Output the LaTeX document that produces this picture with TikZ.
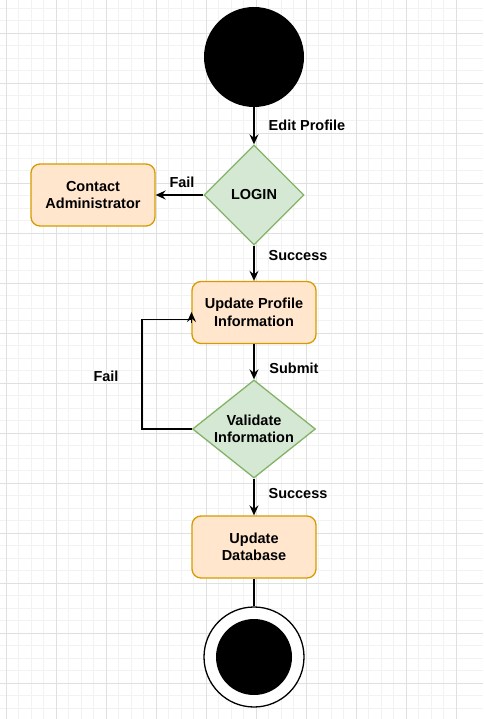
\documentclass[tikz,border=0pt]{standalone}
\usepackage{fontspec}
\setmainfont{Liberation Sans}
\usetikzlibrary{shapes.geometric,arrows.meta}
\definecolor{gridminor}{HTML}{F2F2F2}
\definecolor{gridmajor}{HTML}{E0E0E0}
\definecolor{actfill}{HTML}{FFE6CC}
\definecolor{actdraw}{HTML}{D79B00}
\definecolor{decfill}{HTML}{D5E8D4}
\definecolor{decdraw}{HTML}{82B366}
\tikzset{
  txt/.style={font=\fontsize{14.5}{17.5}\selectfont\bfseries, align=center},
  actbox/.style={txt, rectangle, rounded corners=9pt, draw=actdraw, fill=actfill, line width=1.3pt, minimum width=124pt, minimum height=62pt, inner sep=0pt},
  decbox/.style={diamond, draw=decdraw, fill=decfill, line width=1.3pt, inner sep=0pt},
  conn/.style={line width=1.5pt, draw=black},
  arr/.style={conn, -{Stealth[length=10pt,width=9pt,inset=3.5pt]}},
  lbl/.style={txt, inner sep=0pt}
}
\begin{document}
\begin{tikzpicture}[x=1pt,y=-1pt]
\useasboundingbox (0,0) rectangle (483,719);
\fill[white] (0,0) rectangle (483,719);
% grid
\foreach \i in {0,...,39} {
  \draw[gridminor, line width=0.8pt] ({6+12.5*\i-50},0) -- ({6+12.5*\i-50},719);
}
\foreach \i in {0,...,59} {
  \draw[gridminor, line width=0.8pt] (0,{33+12.5*\i-50}) -- (483,{33+12.5*\i-50});
}
\foreach \i in {0,...,9} {
  \draw[gridmajor, line width=0.9pt] ({6+50*\i},0) -- ({6+50*\i},719);
}
\foreach \i in {0,...,14} {
  \draw[gridmajor, line width=0.9pt] (0,{-17+50*\i}) -- (483,{-17+50*\i});
}
% nodes
\node[circle, fill=black, minimum size=100pt, inner sep=0pt] (start) at (254,57) {};
\node[decbox, minimum width=100pt, minimum height=100pt] (login) at (254,195) {};
\node[txt] (logintxt) at (login.center) {LOGIN};
\node[actbox] (contact) at (93,195) {Contact\\Administrator};
\node[actbox] (upd) at (254,312.5) {Update Profile\\Information};
\node[decbox, minimum width=123pt, minimum height=98pt] (valid) at (254,429) {};
\node[txt] (validtxt) at (valid.center) {Validate\\Information};
\node[actbox] (db) at (254,547) {Update\\Database};
\node[circle, draw=black, fill=white, line width=1.3pt, minimum size=100pt, inner sep=0pt] (end) at (254,657) {};
\node[circle, fill=black, minimum size=76pt, inner sep=0pt] (endin) at (end.center) {};
% labels
\node[lbl] (l1) at (307,125) {Edit Profile};
\node[lbl] (l2) at (182,182) {Fail};
\node[lbl] (l3) at (298,256) {Success};
\node[lbl] (l4) at (294,368) {Submit};
\node[lbl] (l5) at (106,376) {Fail};
\node[lbl] (l6) at (298,494) {Success};
% connectors
\draw[arr] (start.south) -- (login.north);
\draw[arr] (login.west) -- (contact.east);
\draw[arr] (login.south) -- (upd.north);
\draw[arr] (upd.south) -- (valid.north);
\coordinate (lpA) at (142,429);
\coordinate (lpB) at (142,319.5);
\coordinate (lpC) at (191.5,319.5);
\coordinate (lpE) at (191.5,323);
\coordinate (lpD) at (191.5,312);
\draw[conn, line join=miter] (valid.west) -- (lpA) -- (lpB) -- (lpC);
\draw[arr] (lpE) -- (lpD);
\draw[arr] (valid.south) -- (db.north);
\draw[conn] (db.south) -- (end.north);
\end{tikzpicture}
\end{document}
